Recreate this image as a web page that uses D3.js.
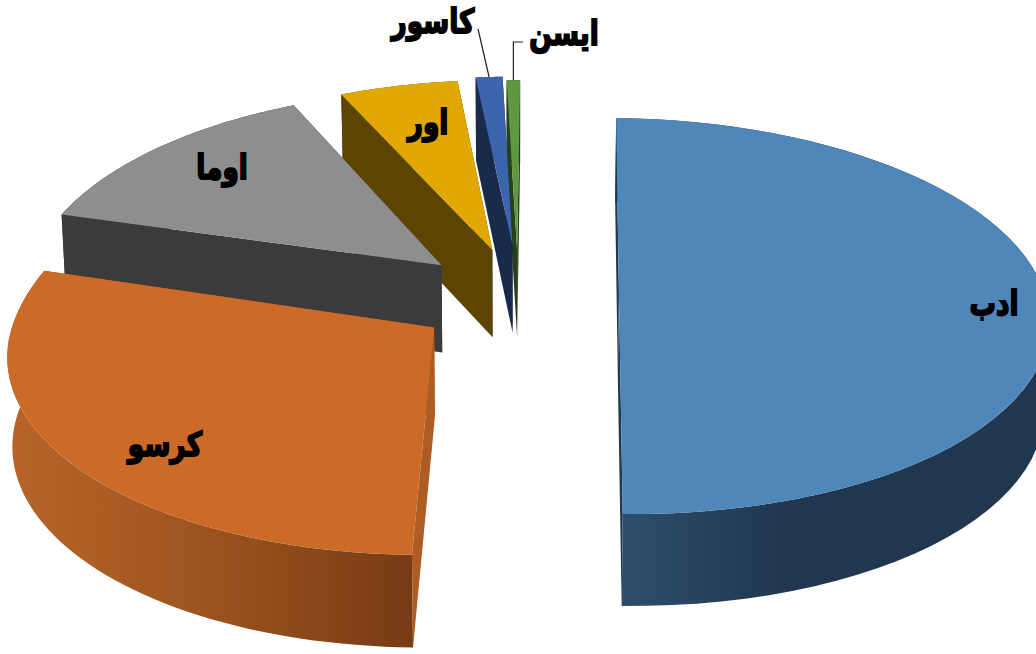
<!DOCTYPE html>
<html>
<head>
<meta charset="utf-8">
<script src="https://d3js.org/d3.v7.min.js"></script>
<style>
  html, body { margin: 0; padding: 0; background: #fff; overflow: hidden; }
  text { font-family: "DejaVu Sans", sans-serif; font-weight: bold; fill: #000; stroke: #000; stroke-width: 1.7; direction: rtl; text-anchor: middle; }
</style>
</head>
<body>
<div class="chart"></div>
<script>
// chart values (percent of the pie)
const categories = ["ادب", "کرسو", "اوما", "اور", "کاسور", "ایسن"];
const shares = [50.1, 29.0, 13.8, 5.3, 1.2, 0.6];

// colours per slice
const topColors = ["#4f87b9", "#cc6a27", "#8e8e8e", "#e0a800", "#3c65ac", "#5f9840"];
const wallColors = ["#1f3a52", "#ad5c24", "#3b3b3b", "#5c4500", "#182b4b", "#26401a"];

// how far each slice is pulled out, and a small correction of its direction (degrees)
const explode = [0.248, 0.262, 0.23, 0.228, 0.245, 0.22];
const explodeTurn = [-1.3, -5.9, -2.8, 0.6, 1.8, 1.3];

// the picture's perspective is not a clean circle, so each slice gets its own radii
const radiusWide = [1.025, 0.995, 1.005, 1, 1, 1];
const radiusFar = [1, 1.08, 1.04, 1.03, 1.03, 1.03];
const radiusNear = [0.995, 0.975, 1, 1, 1, 1];

// label anchors in pixels
const labelX = [994, 165, 222, 428, 433, 564];
const labelY = [315, 456, 179, 134, 33, 45];

const FRAME_WIDTH = 1036;
const FRAME_HEIGHT = 654;
const START_ANGLE = 1.3 * Math.PI / 180;
const ANGLE_SPAN = 359.2 * Math.PI / 180;
const PERSPECTIVE = 0.124;
const DEPTH = 88;
const VANISH_X = 516;

// plane coordinates to pixels
const X_SCALE = d3.scaleLinear().domain([-1, 1]).range([516 - 415, 516 + 415]);
const Y_SCALE = d3.scaleLinear().domain([-1, 1]).range([292 + 195.6, 292 - 195.6]);

function project(a, b, z) {
    let s = 1 / (1 + PERSPECTIVE * b);
    let x = X_SCALE(a * s);
    let y = Y_SCALE(b * s) + z * (DEPTH - 4 * b);
    return [x + (VANISH_X - x) * 0.01 * z, y];
}

const svg = d3.select(".chart").append("svg")
    .attr("width", FRAME_WIDTH)
    .attr("height", FRAME_HEIGHT);

const defs = svg.append("defs");

// the round outer walls fade from left to right
function wallGradient(id, x1, x2, stops) {
    let g = defs.append("linearGradient").attr("id", id)
        .attr("gradientUnits", "userSpaceOnUse")
        .attr("x1", x1).attr("x2", x2).attr("y1", 0).attr("y2", 0);
    stops.forEach((s) => g.append("stop").attr("offset", s[0]).attr("stop-color", s[1]));
}
wallGradient("wall0", 621, 1036, [[0, "#2e4e6d"], [0.4, "#20374f"], [1, "#20374f"]]);
wallGradient("wall1", 8, 412, [[0, "#b8642a"], [0.2, "#ad5e24"], [0.55, "#98511e"], [1, "#783b14"]]);

const slices = d3.pie().sort(null)
    .startAngle(START_ANGLE)
    .endAngle(START_ANGLE + ANGLE_SPAN)(shares);

const line = d3.line();

function sliceGeometry(d, i) {
    let mid = (d.startAngle + d.endAngle) / 2 + explodeTurn[i] * Math.PI / 180;
    let ox = explode[i] * Math.sin(mid);
    let oy = explode[i] * Math.cos(mid);
    let point = (angle, z) => {
        let c = Math.cos(angle);
        return project(ox + radiusWide[i] * Math.sin(angle), oy + c * (c > 0 ? radiusFar[i] : radiusNear[i]), z);
    };
    let apex = (z) => project(ox, oy, z);
    let angles = d3.range(0, 61).map((k) => d.startAngle + (d.endAngle - d.startAngle) * k / 60);
    return {point, apex, angles, mid};
}

// back slices first, the big front ones last
const drawOrder = [5, 4, 3, 2, 1, 0];

drawOrder.forEach((i) => {
    let d = slices[i];
    let geo = sliceGeometry(d, i);
    let g = svg.append("g").attr("class", "slice");

    // outer wall
    let rim = geo.angles.map((t) => geo.point(t, 0));
    let rimLow = geo.angles.map((t) => geo.point(t, 1)).reverse();
    g.append("path")
        .attr("d", line(rim.concat(rimLow)) + "Z")
        .attr("fill", i < 2 ? "url(#wall" + i + ")" : wallColors[i]);

    // the two cut walls
    [d.startAngle, d.endAngle].forEach((t) => {
        g.append("path")
            .attr("d", line([geo.point(t, 0), geo.apex(0), geo.apex(1), geo.point(t, 1)]) + "Z")
            .attr("fill", wallColors[i]);
    });

    // top face
    g.append("path")
        .attr("d", line([geo.apex(0)].concat(rim)) + "Z")
        .attr("fill", topColors[i]);
});

// leader lines of the two thin slices
function leaderEnd(i) {
    let geo = sliceGeometry(slices[i], i);
    return geo.point((slices[i].startAngle + slices[i].endAngle) / 2, 0);
}
let kasurEnd = leaderEnd(4);
let isnEnd = leaderEnd(5);
svg.append("path")
    .attr("d", line([[labelX[4] + 45, labelY[4] - 4], kasurEnd]))
    .attr("fill", "none").attr("stroke", "#222").attr("stroke-width", 1.2);
svg.append("path")
    .attr("d", line([[labelX[5] - 41, labelY[5] - 3], [isnEnd[0], labelY[5] - 3], isnEnd]))
    .attr("fill", "none").attr("stroke", "#222").attr("stroke-width", 1.2);

svg.selectAll("text.label")
    .data(categories)
    .enter()
    .append("text")
        .attr("class", "label")
        .attr("transform", (d, i) => "translate(" + labelX[i] + "," + labelY[i] + ") scale(0.88,1.12)")
        .attr("font-size", 30)
        .text((d) => d);
</script>
</body>
</html>
